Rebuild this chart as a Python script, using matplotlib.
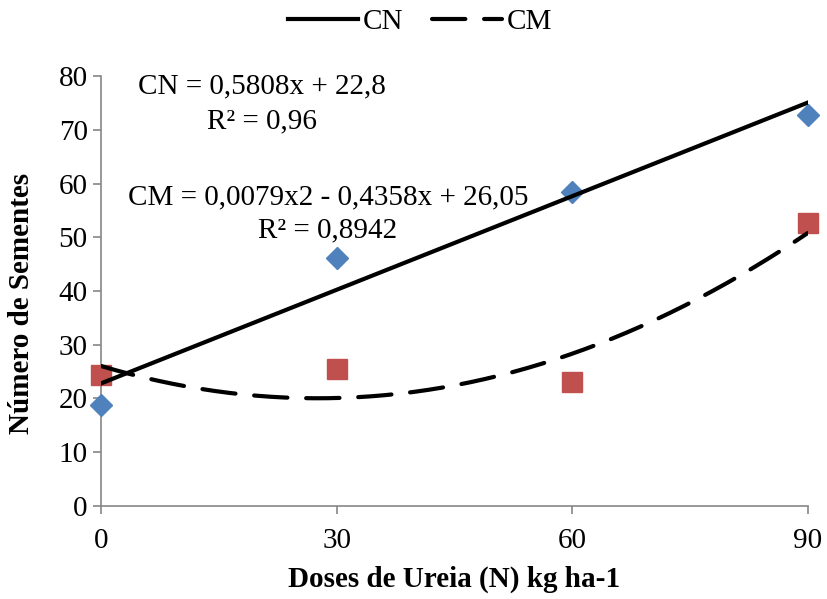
import numpy as np
import matplotlib
matplotlib.use("Agg")
import matplotlib.pyplot as plt

plt.rcParams['font.family'] = ['Liberation Serif', 'DejaVu Serif']

doses = [0, 30, 60, 90]
cn_vals = [18.8, 46.1, 58.4, 72.8]
cm_vals = [24.3, 25.5, 23.0, 52.7]

# trendline coefficients, as printed on the chart
cn_coef = [0.5808, 22.8]
cm_coef = [0.0079, -0.4358, 26.05]

x = np.linspace(0, 90, 200)
fs = 21

fig = plt.figure(figsize=(8.27, 5.99), dpi=100)
ax = fig.add_axes([0.1221, 0.1553, 0.8549, 0.7178])

ax.plot(doses, cn_vals, 'D', color='#4F81BD', ms=11, zorder=3, clip_on=False)
ax.plot(doses, cm_vals, 's', color='#C0504D', ms=14, zorder=3, clip_on=False)
l1, = ax.plot(x, np.polyval(cn_coef, x), color='black', lw=3, zorder=4, label='CN')
l2, = ax.plot(x, np.polyval(cm_coef, x), color='black', lw=3, zorder=4,
              dashes=(8, 4.5), dash_capstyle='round', label='CM')

ax.set_xlim(0, 90)
ax.set_ylim(0, 80)
ax.set_xticks(doses)
ax.set_yticks(range(0, 81, 10))
ax.tick_params(axis='both', labelsize=fs, color='#868686', length=6, width=1.2,
               direction='out')
ax.tick_params(axis='x', pad=10)
for s in ['top', 'right']:
    ax.spines[s].set_visible(False)
for s in ['left', 'bottom']:
    ax.spines[s].set_color('#868686')
    ax.spines[s].set_linewidth(1.2)

ax.set_xlabel('Doses de Ureia (N) kg ha-1', fontsize=fs, fontweight='bold', labelpad=8)
ax.set_ylabel('Número de Sementes', fontsize=fs, fontweight='bold')
ax.yaxis.set_label_coords(-0.093, 0.47)

ax.text(20.5, 78.0, 'CN = 0,5808x + 22,8', fontsize=fs, ha='center', va='center')
ax.text(20.5, 71.6, 'R² = 0,96', fontsize=fs, ha='center', va='center')
ax.text(28.9, 57.5, 'CM = 0,0079x2 - 0,4358x + 26,05', fontsize=fs, ha='center', va='center')
ax.text(28.9, 51.2, 'R² = 0,8942', fontsize=fs, ha='center', va='center')

fig.legend(handles=[l1, l2], loc='center', bbox_to_anchor=(0.508, 0.963), ncol=2,
           frameon=False, fontsize=fs, handlelength=2.4, handletextpad=0.15,
           columnspacing=1.0)

fig.savefig('out.png', dpi=100)
